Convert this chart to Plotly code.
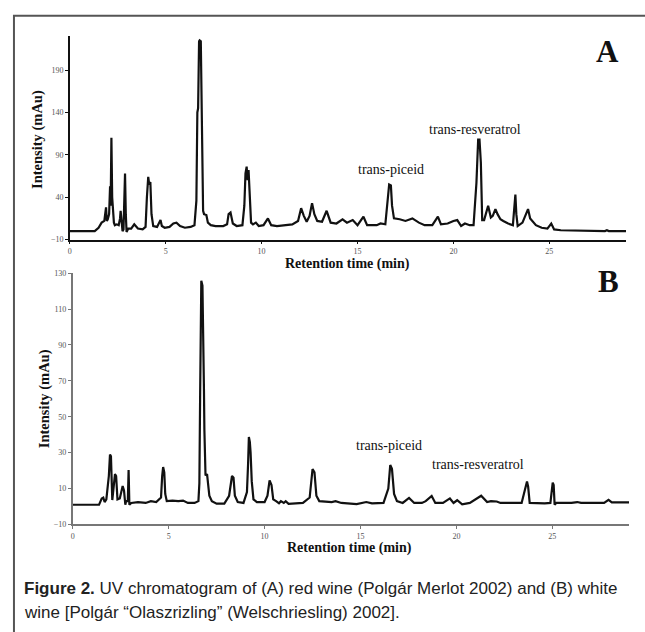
import plotly.graph_objects as go

# ---------------- data ----------------
a_time = [0, 1.3, 1.5, 1.66, 1.8, 1.85, 1.89, 1.93, 1.98, 2.05, 2.1, 2.13, 2.17, 2.21, 2.25, 2.3,
          2.35, 2.45, 2.55, 2.62, 2.65, 2.69, 2.75, 2.8, 2.85, 2.88, 2.92, 2.96, 3.05, 3.2, 3.36,
          3.55, 3.8, 3.95, 4.02, 4.09, 4.14, 4.2, 4.26, 4.35, 4.55, 4.68, 4.73, 4.8, 4.95, 5.2,
          5.4, 5.56, 5.75, 6.0, 6.3, 6.5, 6.6, 6.65, 6.69, 6.74, 6.77, 6.83, 6.86, 6.9, 6.95, 7.0,
          7.12, 7.2, 7.35, 7.6, 8.0, 8.2, 8.28, 8.38, 8.5, 8.7, 9.0, 9.1, 9.16, 9.22, 9.27, 9.32,
          9.37, 9.45, 9.55, 9.7, 9.85, 10.1, 10.33, 10.5, 10.8, 11.3, 11.6, 11.9, 12.06, 12.2,
          12.35, 12.5, 12.63, 12.75, 12.9, 13.15, 13.39, 13.6, 13.9, 14.22, 14.45, 14.75, 15.0,
          15.31, 15.5, 16.0, 16.2, 16.45, 16.58, 16.65, 16.74, 16.8, 16.9, 17.2, 17.5, 17.86,
          18.2, 18.5, 18.9, 19.19, 19.35, 19.7, 20.0, 20.2, 20.4, 20.6, 20.85, 21.05, 21.2, 21.29,
          21.36, 21.43, 21.5, 21.6, 21.81, 21.95, 22.05, 22.19, 22.3, 22.45, 22.6, 22.85, 23.1,
          23.18, 23.23, 23.28, 23.35, 23.6, 23.89, 24.0, 24.3, 24.6, 24.9, 25.1, 25.25, 25.6,
          26.5, 27.0, 27.4, 27.9, 28.0, 28.1, 29.0]
a_intensity = [0, 0, 4, 10, 12, 26, 28, 12, 14, 20, 53, 30, 110, 40, 22, 10,
               7, 8, 7, 15, 24, 12, 0, 2, 50, 68, 20, -1, 3, 3, 8,
               3, 2, 5, 40, 64, 55, 58, 20, 6, 5, 10, 13, 6, 4, 5,
               9, 10, 6, 4, 5, 7, 36, 140, 145, 224, 225, 224, 154, 60, 24, 20,
               19, 10, 7, 6, 6, 8, 20, 22, 9, 6, 7, 30, 68, 76, 60, 72,
               45, 10, 8, 10, 6, 7, 15, 7, 6, 7, 8, 12, 27, 18,
               11, 18, 33, 20, 12, 11, 24, 10, 9, 14, 10, 13, 7,
               17, 7, 7, 9, 8, 35, 55, 54, 30, 15, 14, 12, 15,
               10, 7, 7, 17, 8, 9, 12, 13, 6, 9, 7, 7, 57, 108,
               108, 81, 13, 13, 30, 16, 18, 26, 20, 14, 12, 9, 7,
               25, 43, 20, 6, 10, 26, 15, 7, 4, 3, 9, 2, 1,
               0.5, 0, -0.5, 0, 1, 0, 0]

b_time = [0, 1.37, 1.45, 1.51, 1.59, 1.66, 1.75, 1.82, 1.88, 1.94, 1.99, 2.06, 2.12, 2.2, 2.26,
          2.33, 2.45, 2.55, 2.6, 2.67, 2.74, 2.78, 2.87, 2.91, 2.95, 3.05, 3.4, 3.8, 4.07, 4.35,
          4.6, 4.66, 4.71, 4.77, 4.82, 4.9, 5.2, 5.5, 5.75, 6.0, 6.35, 6.55, 6.6, 6.64, 6.7, 6.76,
          6.81, 6.84, 6.86, 6.92, 7.0, 7.05, 7.12, 7.25, 7.5, 7.9, 8.15, 8.3, 8.38, 8.45, 8.6,
          8.9, 9.08, 9.14, 9.18, 9.23, 9.27, 9.33, 9.42, 9.6, 10.0, 10.15, 10.26, 10.36, 10.45,
          10.6, 10.75, 10.85, 11.0, 11.1, 11.25, 12.0, 12.35, 12.5, 12.6, 12.7, 12.85, 13.5,
          13.7, 14.0, 14.8, 15.3, 15.6, 16.2, 16.45, 16.55, 16.64, 16.75, 16.9, 17.2, 17.53,
          17.8, 18.2, 18.4, 18.71, 18.9, 19.3, 19.66, 19.85, 20.04, 20.3, 20.7, 21.29, 21.6,
          21.8, 22.1, 22.3, 23.4, 23.62, 23.68, 23.74, 23.82, 24.6, 24.9, 25.02, 25.07, 25.12,
          25.2, 26.0, 26.3, 26.5, 27.7, 27.93, 28.1, 29.0]
b_intensity = [1, 1, 3, 4.5, 5, 2.5, 4, 10, 17, 29, 28, 3.6, 11, 18, 17,
               4, 4.5, 10, 11.4, 9, 1, 3, 3, 20.4, 1, 2, 2.5, 2, 3, 2.5,
               5, 17, 22, 19, 7, 3, 3.3, 3, 3.3, 2, 2, 3, 13, 63, 125.8, 123,
               98, 64, 43, 17.3, 18, 13, 6, 3, 1.6, 1.6, 6, 17, 16, 6, 2.5,
               2, 8, 24, 38.7, 36, 30, 14, 4, 2.5, 2.5, 6, 14.5, 12, 4,
               3, 1.8, 3, 2, 3, 1.5, 2, 5, 20.9, 19, 6, 3, 2.5,
               3, 2, 1.3, 2.5, 1.8, 2, 10, 23.1, 21, 7, 3, 2, 4.8,
               2, 2, 3, 5.9, 2, 2, 4.5, 2, 3.5, 1.2, 2, 6, 2.5,
               3, 2.8, 2, 2, 12, 14, 11, 2, 1.8, 2, 13.3, 12, 1,
               2, 2, 2.5, 2, 2, 3.7, 2.3, 2.3]

x_ticks = [0, 5, 10, 15, 20, 25]
a_yticks = [-10, 40, 90, 140, 190]
b_yticks = [-10, 10, 30, 50, 70, 90, 110, 130]

panel_labels = ["A", "B"]
a_annots = [("trans-piceid", 16.74, 72.6), ("trans-resveratrol", 21.15, 120)]
b_annots = [("trans-piceid", 16.48, 33.9), ("trans-resveratrol", 21.1, 23.5)]

x_title = "Retention time (min)"
y_title = "Intensity (mAu)"
caption_1 = "<b>Figure 2.</b> UV chromatogram of (A) red wine (Polgár Merlot 2002) and (B) white"
caption_2 = "wine [Polgár “Olaszrizling” (Welschriesling) 2002]."

# ---------------- layout helpers ----------------
W, H = 645, 632
def px(x):
    return x / W
def py(y):
    return (H - y) / H

serif = "Liberation Serif, Times New Roman, serif"
cap_font = "Liberation Sans Narrow, Arial Narrow, Liberation Sans, sans-serif"

fig = go.Figure()
fig.add_trace(go.Scatter(x=a_time, y=a_intensity, mode="lines",
                         line=dict(color="#111111", width=2.2), xaxis="x", yaxis="y",
                         showlegend=False, hoverinfo="skip"))
fig.add_trace(go.Scatter(x=b_time, y=b_intensity, mode="lines",
                         line=dict(color="#111111", width=2.2), xaxis="x2", yaxis="y2",
                         showlegend=False, hoverinfo="skip"))

tickfont = dict(family=serif, size=8, color="#555555")
common_x = dict(range=[0, 29], tickvals=x_ticks, ticks="outside", ticklen=3, tickwidth=1,
                showgrid=False, zeroline=False, showline=True, tickfont=tickfont,
                fixedrange=True)
common_y = dict(ticks="outside", ticklen=3, tickwidth=1, showgrid=False, zeroline=False,
                showline=True, tickfont=tickfont, fixedrange=True)

fig.update_layout(
    width=W, height=H, margin=dict(l=0, r=0, t=0, b=0),
    paper_bgcolor="white", plot_bgcolor="white",
    xaxis=dict(common_x, domain=[px(68), px(626)], anchor="y", linecolor="#111111",
               linewidth=1.5, tickcolor="#111111"),
    yaxis=dict(common_y, domain=[py(239), py(32)], range=[-10, 230.7], tickvals=a_yticks,
               anchor="x", linecolor="#111111", linewidth=1.5, tickcolor="#111111"),
    xaxis2=dict(common_x, domain=[px(71), px(629)], anchor="y2", linecolor="#777777",
                linewidth=2, tickcolor="#777777"),
    yaxis2=dict(common_y, domain=[py(528), py(273)], range=[-10, 130], tickvals=b_yticks,
                anchor="x2", linecolor="#777777", linewidth=2, tickcolor="#777777"),
)

annotations = []
for text, xv, yv in a_annots:
    annotations.append(dict(text=text, x=xv, y=yv, xref="x", yref="y", showarrow=False,
                            xanchor="center", yanchor="middle",
                            font=dict(family=serif, size=14, color="#111111")))
for text, xv, yv in b_annots:
    annotations.append(dict(text=text, x=xv, y=yv, xref="x2", yref="y2", showarrow=False,
                            xanchor="center", yanchor="middle",
                            font=dict(family=serif, size=14, color="#111111")))

def paper_text(text, xc, yc, size, family=serif, angle=0, xanchor="center", color="#111111"):
    return dict(text=text, x=px(xc), y=py(yc), xref="paper", yref="paper", showarrow=False,
                xanchor=xanchor, yanchor="middle", textangle=angle,
                font=dict(family=family, size=size, color=color))

# panel letters
annotations.append(paper_text("<b>%s</b>" % panel_labels[0], 607, 48, 31))
annotations.append(paper_text("<b>%s</b>" % panel_labels[1], 608, 282, 31))

# axis titles
for (xc, yc) in [(347, 264), (349, 552)]:
    annotations.append(paper_text("<b>%s</b>" % x_title, xc, yc, 14))
for (xc, yc) in [(35, 137), (42, 400)]:
    annotations.append(paper_text("<b>%s</b>" % y_title, xc, yc, 14.5, angle=-90))

# caption
annotations.append(paper_text(caption_1, 20, 593, 17, family=cap_font, xanchor="left",
                              color="#222222"))
annotations.append(paper_text(caption_2, 20, 617, 17, family=cap_font, xanchor="left",
                              color="#222222"))

fig.update_layout(annotations=annotations)

# outer frame (open at right and bottom, cropped)
fig.add_shape(type="rect", xref="paper", yref="paper", x0=px(12), y0=-0.05, x1=1.05, y1=py(12),
              line=dict(color="#555555", width=2), fillcolor="rgba(0,0,0,0)", layer="below")

fig.write_html("out.html")
